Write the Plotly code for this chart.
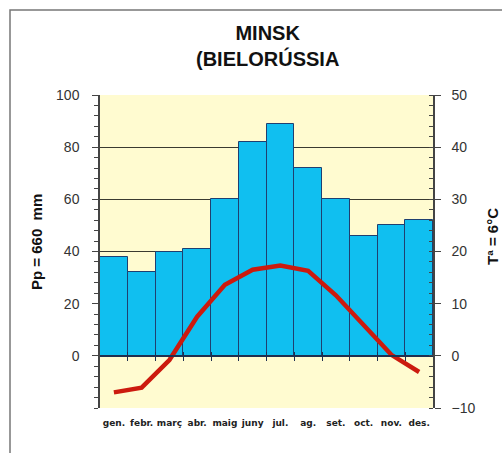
import plotly.graph_objects as go

months = ["gen.", "febr.", "març", "abr.", "maig", "juny", "jul.", "ag.", "set.", "oct.", "nov.", "des."]
precip_mm = [38, 32, 40, 41, 60, 82, 89, 72, 60, 46, 50, 52]
temp_c = [-7.0, -6.1, -0.8, 7.5, 13.6, 16.5, 17.3, 16.3, 11.6, 5.8, 0.2, -3.1]
left_ticks = [0, 20, 40, 60, 80, 100]
grid_ticks = [0, 20, 40, 60, 80]
right_ticks = [-10, 0, 10, 20, 30, 40, 50]

idx = list(range(len(months)))
bounds = [i + 0.5 for i in idx[:-1]]

W, H = 502, 453
L, R, T, B = 100, 69, 95, 45
pw, ph = W - L - R, H - T - B

def px_x(p):
    return (p - L) / pw

def px_y(p):
    return (H - B - p) / ph

fig = go.Figure()
# invisible helper traces so the overlay axes (grid, zero line ticks) are rendered
fig.add_trace(go.Scatter(x=idx, y=precip_mm, mode="none", xaxis="x", yaxis="y3",
                         showlegend=False, hoverinfo="skip"))
fig.add_trace(go.Bar(x=idx, y=precip_mm, marker=dict(color="#10BFF0", line=dict(color="#1F3F70", width=1)),
                     xaxis="x", yaxis="y", showlegend=False, hoverinfo="skip"))
fig.add_trace(go.Scatter(x=idx, y=precip_mm, mode="none", xaxis="x2", yaxis="y",
                         showlegend=False, hoverinfo="skip"))
fig.add_trace(go.Scatter(x=idx, y=precip_mm, mode="none", xaxis="x3", yaxis="y",
                         showlegend=False, hoverinfo="skip"))
fig.add_trace(go.Scatter(x=idx, y=temp_c, mode="lines", line=dict(color="#CC1A0E", width=4.5),
                         xaxis="x", yaxis="y2", showlegend=False, hoverinfo="skip"))

zero_pos = (0 - (-20)) / 120.0
tickfont = dict(family="Liberation Sans, Arial", size=14, color="#333333")
axcol = "#444444"

fig.update_layout(
    width=W, height=H,
    margin=dict(l=L, r=R, t=T, b=B),
    paper_bgcolor="white",
    plot_bgcolor="#FFFBD0",
    bargap=0,
    hovermode=False,
    xaxis=dict(range=[-0.5, 11.5], tickvals=idx, ticktext=["<b>%s</b>" % m for m in months],
               showgrid=False, zeroline=False, showline=False, ticks="", automargin=False,
               tickfont=dict(family="DejaVu Sans", size=9, color="#222222"),
               ticklabelstandoff=8),
    xaxis2=dict(range=[-0.5, 11.5], overlaying="x", anchor="free", position=zero_pos,
                tickvals=bounds, ticks="outside", ticklen=4, tickcolor="#1F2F50", tickwidth=1.2,
                showline=True, linecolor="#1F2F50", linewidth=1.5, showticklabels=False,
                showgrid=False, zeroline=False, automargin=False),
    xaxis3=dict(range=[-0.5, 11.5], overlaying="x", anchor="free", position=zero_pos,
                tickvals=bounds, ticks="inside", ticklen=4, tickcolor="#1F2F50", tickwidth=1.2,
                showline=False, showticklabels=False, showgrid=False, zeroline=False, automargin=False),
    yaxis=dict(range=[-20, 100], tickvals=left_ticks, showgrid=False, zeroline=False,
               showline=True, linecolor=axcol, linewidth=1.5, ticks="outside", ticklen=6,
               tickcolor=axcol, tickfont=tickfont, ticklabelstandoff=10, automargin=False,
               minor=dict(dtick=4, tick0=0, ticks="outside", ticklen=4, tickcolor=axcol, showgrid=False)),
    yaxis3=dict(range=[-20, 100], overlaying="y", tickvals=grid_ticks, showgrid=True,
                gridcolor="#3A3A30", gridwidth=1, showticklabels=False, ticks="", zeroline=False,
                showline=False, automargin=False),
    yaxis2=dict(range=[-10, 50], overlaying="y", side="right", tickvals=right_ticks, showgrid=False,
                zeroline=False, showline=True, linecolor=axcol, linewidth=1.5, ticks="outside",
                ticklen=6, tickcolor=axcol, tickfont=tickfont, ticklabelstandoff=8, automargin=False,
                minor=dict(dtick=2, tick0=0, ticks="inside", ticklen=4, tickcolor=axcol, showgrid=False)),
    annotations=[
        dict(text="<b>MINSK<br>(BIELORÚSSIA</b>", xref="paper", yref="paper",
             x=px_x(L + pw / 2 + 1), y=px_y(20), xanchor="center", yanchor="top", showarrow=False,
             font=dict(family="Liberation Sans, Arial", size=20, color="#111111")),
        dict(text="<b>Pp = 660  mm</b>", xref="paper", yref="paper", textangle=-90,
             x=px_x(36), y=px_y(242), xanchor="center", yanchor="middle", showarrow=False,
             font=dict(family="Liberation Sans, Arial", size=15, color="#111111")),
        dict(text="<b>Tª = 6°C</b>", xref="paper", yref="paper", textangle=-90,
             x=px_x(492), y=px_y(236), xanchor="center", yanchor="middle", showarrow=False,
             font=dict(family="Liberation Sans, Arial", size=15, color="#111111")),
    ],
    shapes=[dict(type="rect", xref="paper", yref="paper",
                 x0=px_x(10), x1=px_x(504), y0=px_y(456), y1=px_y(10),
                 line=dict(color="#777777", width=1.5), fillcolor="rgba(0,0,0,0)", layer="below")],
)

fig.write_html("out.html", config={"displayModeBar": False},
               post_script="document.body.style.margin='0';document.body.style.overflow='hidden';")
